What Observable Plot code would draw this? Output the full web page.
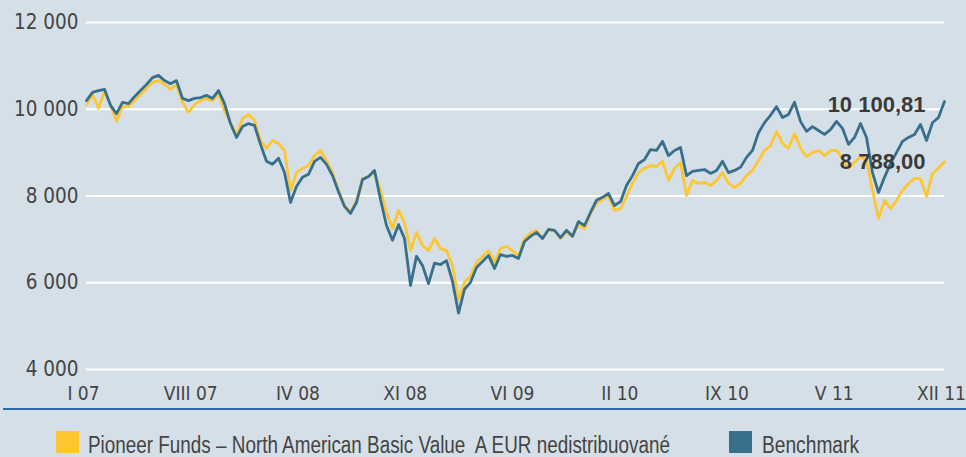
<!DOCTYPE html>
<html>
<head>
<meta charset="utf-8">
<script src="https://cdn.jsdelivr.net/npm/d3@7"></script>
<script src="https://cdn.jsdelivr.net/npm/@observablehq/plot@0.6"></script>
<style>
  html, body { margin: 0; padding: 0; background: #d5dfe7; }
  body { width: 966px; height: 457px; position: relative; overflow: hidden;
         font-family: "DejaVu Sans Condensed", "Liberation Sans", sans-serif; color: #444; }
  #chart { position: absolute; left: 0; top: 0; }
  #rule { position: absolute; left: 3px; right: 0; top: 408px; height: 0; border-top: 2px solid #2a6aa6; }
  .sw { position: absolute; top: 431px; width: 23px; height: 22px; }
  .lt { position: absolute; top: 433px; font-family: "Liberation Sans", Arial, sans-serif; font-size: 23px;
        line-height: 24px; white-space: pre; transform-origin: 0 0; color: #444; }
</style>
</head>
<body>
<div id="chart"></div>
<div id="rule"></div>
<div id="legend"></div>
<script>
// ---- data ----
const seriesNames = ["Pioneer Funds – North American Basic Value  A EUR nedistribuované", "Benchmark"];
const seriesColors = ["#fec630", "#376f8c"];
const startDate = "2007-01-03";
const endDate = "2011-12-24";
const fundValues = [
  10110,10340,10020,10410,10110,9720,10060,10060,10200,10340,
  10480,10620,10660,10570,10460,10570,10160,9930,10110,10200,
  10250,10200,10360,9970,9690,9400,9790,9880,9740,9280,
  9100,9280,9210,9050,8130,8540,8640,8700,8930,9050,
  8820,8540,8130,7780,7620,7900,8400,8450,8540,8130,
  7620,7250,7670,7390,6740,7160,6860,6740,7020,6790,
  6740,6400,5600,6010,6150,6470,6610,6740,6470,6790,
  6840,6740,6610,7020,7140,7210,7020,7210,7210,7020,
  7180,7070,7340,7250,7600,7830,7920,7990,7670,7710,
  7990,8290,8540,8640,8700,8680,8800,8360,8640,8770,
  8010,8360,8290,8310,8240,8360,8540,8290,8200,8290,
  8470,8590,8820,9050,9160,9490,9210,9100,9440,9100,
  8910,9000,9050,8930,9050,9050,8870,8640,8770,8910,
  8820,8130,7480,7900,7710,7900,8130,8290,8400,8400,
  7990,8520,8640,8790
];
const benchmarkValues = [
  10200,10390,10430,10460,10090,9900,10160,10130,10290,10430,
  10570,10730,10780,10660,10590,10660,10250,10200,10250,10270,
  10320,10250,10430,10130,9670,9350,9600,9670,9630,9190,
  8800,8730,8870,8540,7850,8220,8430,8500,8800,8890,
  8730,8470,8100,7760,7600,7850,8380,8450,8590,7920,
  7320,6980,7340,7020,5940,6610,6400,5980,6450,6420,
  6510,6030,5300,5850,6010,6350,6490,6630,6330,6650,
  6610,6630,6560,6950,7070,7160,7020,7230,7210,7040,
  7210,7070,7410,7320,7620,7900,7970,8060,7780,7870,
  8240,8470,8750,8840,9070,9050,9260,8930,9050,9120,
  8470,8570,8590,8610,8520,8590,8800,8540,8590,8660,
  8890,9050,9460,9690,9860,10060,9810,9880,10160,9720,
  9490,9600,9510,9420,9530,9720,9560,9190,9350,9670,
  9350,8540,8080,8430,8750,9000,9260,9350,9420,9650,
  9280,9690,9810,10180
];
const endLabels = ["8 788,00", "10 100,81"];
const endLabelValues = [8788.00, 10100.81];
const yTicks = [4000, 6000, 8000, 10000, 12000];
const romanMonths = ["I","II","III","IV","V","VI","VII","VIII","IX","X","XI","XII"];
const xTickCount = 9;

// ---- build tables ----
const t0 = new Date(startDate + "T00:00:00Z").getTime();
const t1 = new Date(endDate + "T00:00:00Z").getTime();
const n = benchmarkValues.length;
const dateAt = i => new Date(t0 + i * (t1 - t0) / (n - 1));
const fund = fundValues.map((v, i) => ({date: dateAt(i), value: v}));
const bench = benchmarkValues.map((v, i) => ({date: dateAt(i), value: v}));
const xTicks = d3.range(xTickCount).map(k => new Date(t0 + k * (t1 - t0) / (xTickCount - 1)));
const labels = endLabels.map((t, i) => ({date: new Date(t1), value: endLabelValues[i], text: t}));
const fmtY = d => String(d).replace(/\B(?=(\d{3})+(?!\d))/g, " ");
const fmtX = d => romanMonths[d.getUTCMonth()] + " " + String(d.getUTCFullYear()).slice(2);
const axisFont = "\"DejaVu Sans Condensed\", \"Liberation Sans\", sans-serif";

const chart = Plot.plot({
  width: 966,
  height: 405,
  marginLeft: 86,
  marginRight: 22,
  marginTop: 22,
  marginBottom: 36,
  x: {type: "utc", domain: [new Date(t0), new Date(t1)]},
  y: {domain: [4000, 12000]},
  style: {background: "transparent", fontFamily: axisFont, fontSize: "20px", color: "#444", overflow: "visible"},
  marks: [
    Plot.gridY(yTicks, {stroke: "#ffffff", strokeOpacity: 1, strokeWidth: 2}),
    Plot.axisY(yTicks, {tickSize: 0, tickPadding: 8, tickFormat: fmtY, label: null, fill: "#444", fontSize: 20.5}),
    Plot.axisX(xTicks, {tickSize: 0, tickPadding: 17, dx: -3, tickFormat: fmtX, label: null, fill: "#444", fontSize: 19}),
    Plot.line(fund, {x: "date", y: "value", stroke: seriesColors[0], strokeWidth: 2.8, strokeLinejoin: "round"}),
    Plot.line(bench, {x: "date", y: "value", stroke: seriesColors[1], strokeWidth: 2.8, strokeLinejoin: "round"}),
    Plot.text(labels, {x: "date", y: "value", text: "text", textAnchor: "end", dx: -19,
      fontFamily: "\"Liberation Sans\", Arial, sans-serif", fontWeight: "bold", fontSize: 22, fill: "#3a3a3a"})
  ]
});
document.getElementById("chart").appendChild(chart);

// legend
const legend = document.getElementById("legend");
const legX = [56, 729];
const legTextX = [88, 762];
const legTextW = [582, 97];
seriesNames.forEach((name, i) => {
  const sw = document.createElement("div");
  sw.className = "sw";
  sw.style.left = legX[i] + "px";
  sw.style.background = seriesColors[i];
  legend.appendChild(sw);
  const t = document.createElement("span");
  t.className = "lt";
  t.style.left = legTextX[i] + "px";
  t.textContent = name;
  legend.appendChild(t);
  const w = t.getBoundingClientRect().width;
  t.style.transform = `scaleX(${legTextW[i] / w})`;
});
</script>
</body>
</html>
